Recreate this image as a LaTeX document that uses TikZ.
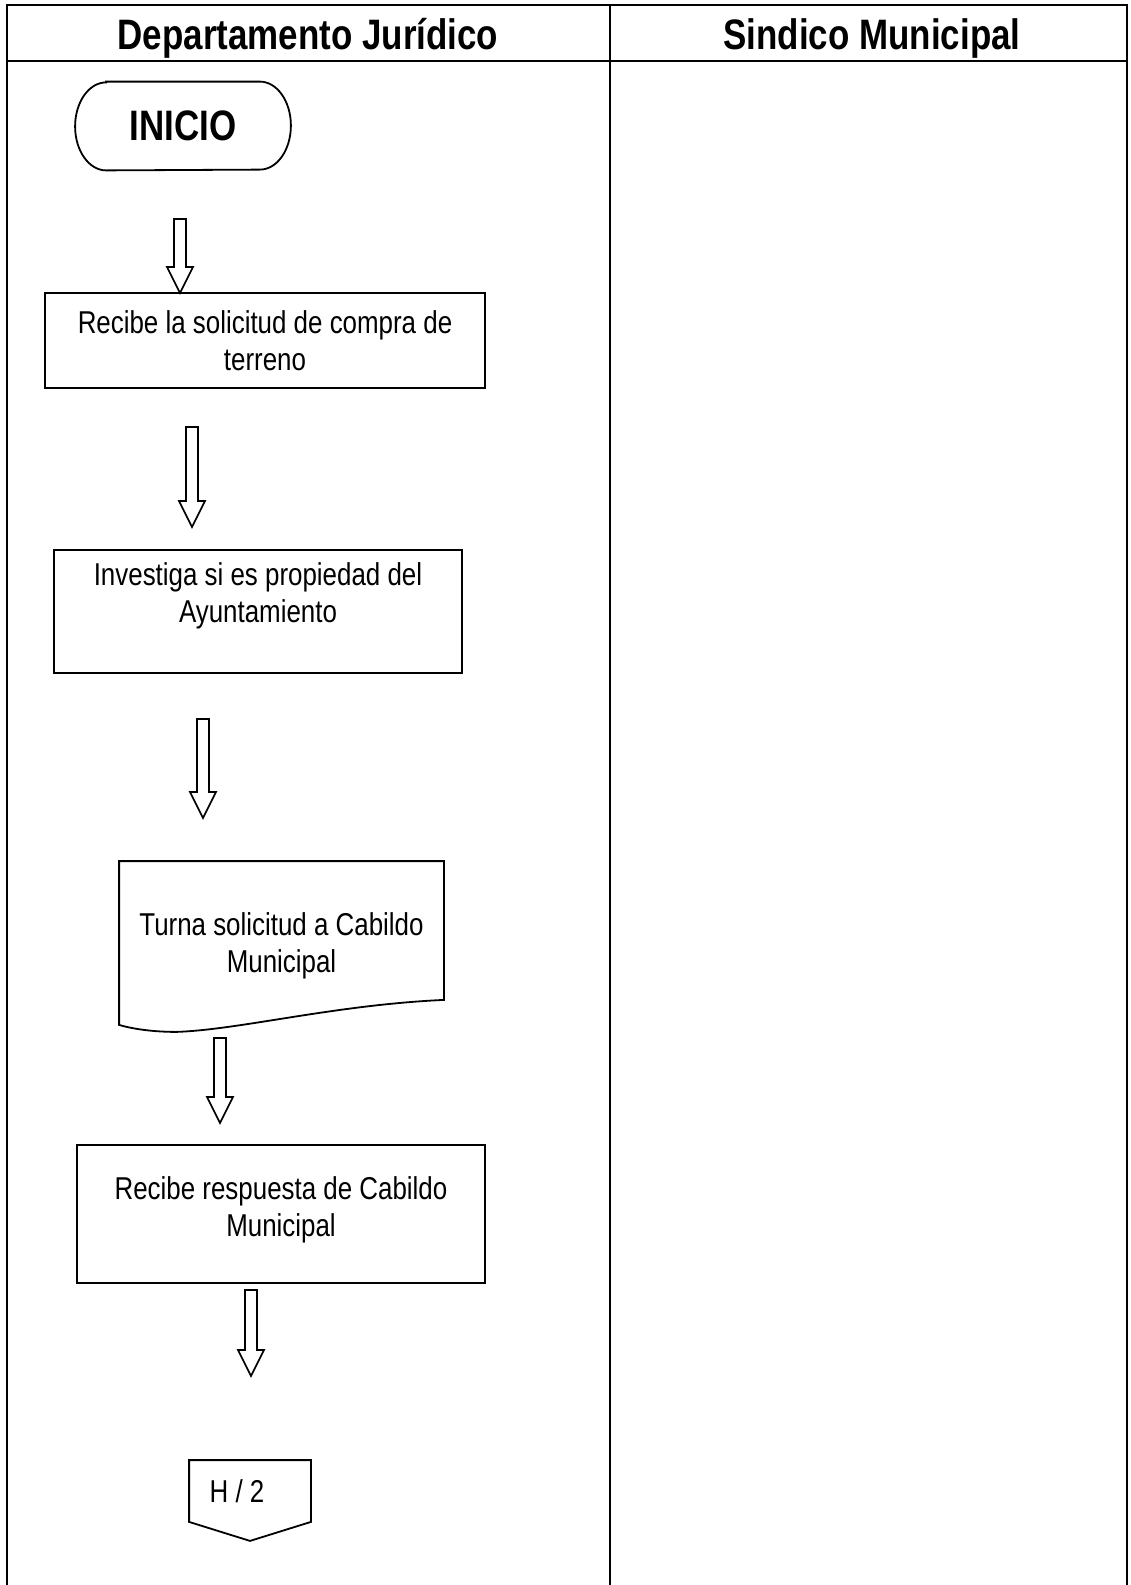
\documentclass[tikz,border=0pt]{standalone}
\usepackage{fontspec}
\setmainfont[FakeStretch=0.82]{Liberation Sans}
\usetikzlibrary{shapes.misc}
\usetikzlibrary{calc}

% flecha hueca de #1 (arriba) a #2 (punta)
\newcommand{\flecha}[2]{%
	\draw[flecha] ($(#1)+(-6,0)$) -- ($(#2)+(-6,-26)$) -- ($(#2)+(-13,-26)$) -- (#2)
		-- ($(#2)+(13,-26)$) -- ($(#2)+(6,-26)$) -- ($(#1)+(6,0)$) -- cycle;}

\begin{document}
\begin{tikzpicture}[x=0.5pt, y=-0.5pt,
	marco/.style={line width=1pt},
	titulo/.style={font=\fontsize{21.3}{25}\selectfont\bfseries},
	forma/.style={line width=0.9pt},
	paso/.style={draw, rectangle, forma, align=center, inner sep=0pt, font=\fontsize{15.8}{18.5}\selectfont},
	flecha/.style={line width=0.8pt}]

	\useasboundingbox (0,0) rectangle (1130,1585);

	% Marco
	\coordinate (M1) at (7,5);
	\coordinate (M2) at (610,5);
	\coordinate (M3) at (1127,5);
	\coordinate (M4) at (7,1585);
	\coordinate (M5) at (610,1585);
	\coordinate (M6) at (1127,1585);
	\coordinate (T1) at (7,61);
	\coordinate (T2) at (1127,61);
	\draw[marco] (M4) -- (M1) -- (M3) -- (M6);
	\draw[marco] (M2) -- (M5);
	\draw[marco] (T1) -- (T2);

	\node[titulo] (DJ) at (308,38) {Departamento Jurídico};
	\node[titulo] (SM) at (872,38) {Sindico Municipal};

	% Inicio
	\node[titulo, minimum width=107.5pt, minimum height=44pt, inner sep=0pt] (I) at (183,126) {INICIO};
	\draw[forma] ($(I.north west)+(31,0)$) -- ($(I.north east)+(-31,0)$)
		arc[start angle=90, end angle=-90, x radius=15.5pt, y radius=22pt]
		-- ($(I.south west)+(31,0)$)
		arc[start angle=270, end angle=90, x radius=15.5pt, y radius=22pt] -- cycle;

	\coordinate (a1) at (180,219);
	\coordinate (b1) at (180,293);
	\flecha{a1}{b1}

	% Paso 1
	\node[paso, minimum width=220pt, minimum height=47.5pt] (P1) at (265,340.5)
		{Recibe la solicitud de compra de\\terreno};

	\coordinate (a2) at (192,427);
	\coordinate (b2) at (192,527);
	\flecha{a2}{b2}

	% Paso 2
	\node[paso, minimum width=204pt, minimum height=61.5pt] (P2) at (258,611.5)
		{Investiga si es propiedad del\\Ayuntamiento\\\mbox{}};

	\coordinate (a3) at (203,719);
	\coordinate (b3) at (203,818);
	\flecha{a3}{b3}

	% Paso 3 (documento)
	\node[paso, draw=none, minimum width=161.5pt, minimum height=83.5pt] (D3) at (281.5,945.5)
		{Turna solicitud a Cabildo\\Municipal};
	\draw[forma] (D3.north west) -- (D3.north east) -- ($(D3.south east)+(0,-30)$)
		.. controls ($(D3.south east)+(-110,-25)$) and ($(D3.south west)+(120,0)$) .. ($(D3.south west)+(57,2)$)
		.. controls ($(D3.south west)+(30,2)$) and ($(D3.south west)+(10,-2)$) .. ($(D3.south west)+(0,-5)$) -- cycle;

	\coordinate (a4) at (220,1038);
	\coordinate (b4) at (220,1123);
	\flecha{a4}{b4}

	% Paso 4
	\node[paso, minimum width=204pt, minimum height=69pt] (P4) at (281,1214)
		{Recibe respuesta de Cabildo\\Municipal\\[-11pt]\mbox{}};

	\coordinate (a5) at (251,1290);
	\coordinate (b5) at (251,1376);
	\flecha{a5}{b5}

	% Conector a hoja 2
	\node[paso, draw=none, minimum width=60pt, minimum height=30pt] (H) at (250,1491) {H / 2\hspace*{13pt}};
	\draw[forma] (H.north west) -- (H.north east) -- (H.south east) -- ($(H.south)+(0,19)$) -- (H.south west) -- cycle;

\end{tikzpicture}
\end{document}
